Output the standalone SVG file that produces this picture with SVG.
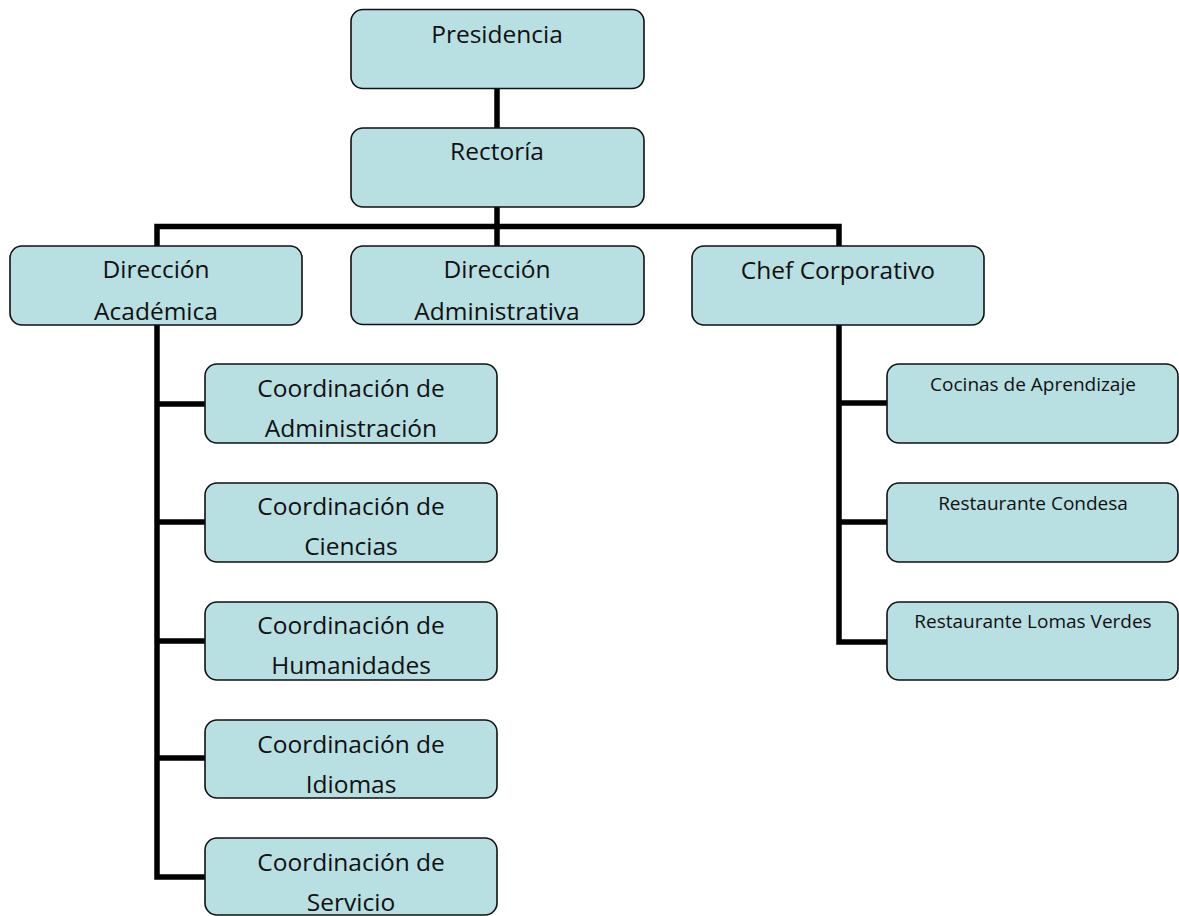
<svg xmlns="http://www.w3.org/2000/svg" width="1179" height="916" viewBox="0 0 1179 916">
<style>
.box{fill:#b8dfe2;stroke:#111;stroke-width:1.6}
.t{font-family:"Open Sans","Liberation Sans",sans-serif;font-size:24.5px;fill:#111;text-anchor:middle}
.s{font-family:"Open Sans","Liberation Sans",sans-serif;font-size:19px;fill:#111;text-anchor:middle}
.c{fill:none;stroke:#000;stroke-width:5.5;stroke-linejoin:miter;stroke-linecap:butt}
</style>
<rect width="1179" height="916" fill="#fff"/>
<g id="connectors">
<path class="c" d="M497 88V128M497 207V227M157 246V226.5H839V246M497 226.5V246"/>
<path class="c" d="M157 325V877H205M157 404H205M157 522H205M157 641H205M157 758H205"/>
<path class="c" d="M839 325V642H887M839 403H887M839 522H887"/>
</g>
<g id="presidencia"><rect class="box" x="351" y="9.5" width="293" height="79" rx="12"/><text class="t" x="497" y="43">Presidencia</text></g>
<g id="rectoria"><rect class="box" x="351" y="128" width="293" height="79" rx="12"/><text class="t" x="497" y="160">Rectoría</text></g>
<g id="dir-academica"><rect class="box" x="10" y="246" width="292" height="79" rx="12"/><text class="t" x="156" y="278">Dirección</text><text class="t" x="156" y="319.5">Académica</text></g>
<g id="dir-administrativa"><rect class="box" x="351" y="246" width="293" height="78.5" rx="12"/><text class="t" x="497" y="277.5">Dirección</text><text class="t" x="497" y="320">Administrativa</text></g>
<g id="chef"><rect class="box" x="692" y="246" width="292" height="79" rx="12"/><text class="t" x="838" y="279">Chef Corporativo</text></g>
<g id="coord-administracion"><rect class="box" x="205" y="364" width="292" height="79" rx="12"/><text class="t" x="351" y="397">Coordinación de</text><text class="t" x="351" y="437">Administración</text></g>
<g id="coord-ciencias"><rect class="box" x="205" y="483" width="292" height="79" rx="12"/><text class="t" x="351" y="515">Coordinación de</text><text class="t" x="351" y="555">Ciencias</text></g>
<g id="coord-humanidades"><rect class="box" x="205" y="602" width="292" height="78" rx="12"/><text class="t" x="351" y="634">Coordinación de</text><text class="t" x="351" y="674">Humanidades</text></g>
<g id="coord-idiomas"><rect class="box" x="205" y="720" width="292" height="78" rx="12"/><text class="t" x="351" y="753">Coordinación de</text><text class="t" x="351" y="793">Idiomas</text></g>
<g id="coord-servicio"><rect class="box" x="205" y="838" width="292" height="77" rx="12"/><text class="t" x="351" y="871">Coordinación de</text><text class="t" x="351" y="911">Servicio</text></g>
<g id="cocinas"><rect class="box" x="887" y="364" width="291" height="79" rx="12"/><text class="s" x="1033" y="391">Cocinas de Aprendizaje</text></g>
<g id="condesa"><rect class="box" x="887" y="483" width="291" height="79" rx="12"/><text class="s" x="1033" y="510">Restaurante Condesa</text></g>
<g id="lomas-verdes"><rect class="box" x="887" y="602" width="291" height="78" rx="12"/><text class="s" x="1033" y="628">Restaurante Lomas Verdes</text></g>
</svg>
